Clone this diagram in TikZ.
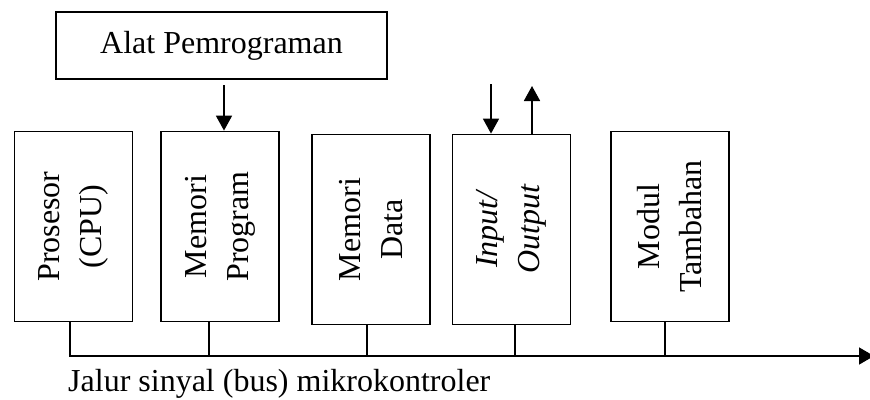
\documentclass[tikz,border=0pt]{standalone}
\usepackage{fontspec}
\setmainfont{Liberation Serif}
\usetikzlibrary{arrows.meta}
\begin{document}
\begin{tikzpicture}[x=1pt,y=-1pt,
  blk/.style={draw, line width=1.8pt, minimum width=118pt, minimum height=190pt, inner sep=0pt},
  lbl/.style={font=\fontsize{32pt}{42pt}\selectfont, rotate=90, align=center, inner sep=0pt},
  wire/.style={line width=1.5pt},
  arr/.style={line width=1.8pt, -{Triangle[length=15pt,width=16pt]}},
]
\useasboundingbox (0,0) rectangle (870,399);
% top box
\node[draw, line width=1.8pt, minimum width=331pt, minimum height=67pt, inner sep=0pt,
      font=\fontsize{32pt}{42pt}\selectfont] (alat) at (221.5,45.5) {Alat Pemrograman};
% blocks
\node[blk] (cpu) at (73.5,226.5) {};
\node[blk] (mp)  at (220,226.5) {};
\node[blk] (md)  at (371,229.5) {};
\node[blk] (io)  at (511.5,229.5) {};
\node[blk] (mt)  at (670,226.5) {};
\node[lbl] at (cpu.center) {Prosesor\\(CPU)};
\node[lbl] at (mp.center) {Memori\\Program};
\node[lbl] at (md.center) {Memori\\Data};
\node[lbl] at (io.center) {\itshape Input/\\\itshape Output};
\node[lbl] at (mt.center) {Modul\\Tambahan};
% bus
\coordinate (bs) at (69,356);
\coordinate (be) at (874,356);
\draw[wire, -{Triangle[length=15pt,width=17pt]}] (bs) -- (be);
\draw[wire] (cpu.south -| 70,0) -- (70,356);
\draw[wire] (mp.south -| 209,0) -- (209,356);
\draw[wire] (md.south -| 367,0) -- (367,356);
\draw[wire] (io.south -| 515,0) -- (515,356);
\draw[wire] (mt.south -| 665,0) -- (665,356);
% arrows
\coordinate (a1) at (224,85);
\draw[arr] (a1) -- (a1 |- mp.north);
\coordinate (a2) at (491,84);
\draw[arr] (a2) -- (a2 |- io.north);
\coordinate (a3) at (532,86);
\draw[arr] (a3 |- io.north) -- (a3);
% caption
\node[font=\fontsize{32pt}{42pt}\selectfont, anchor=base west, inner sep=0pt] (cap) at (68,391) {Jalur sinyal (bus) mikrokontroler};
\end{tikzpicture}
\end{document}
